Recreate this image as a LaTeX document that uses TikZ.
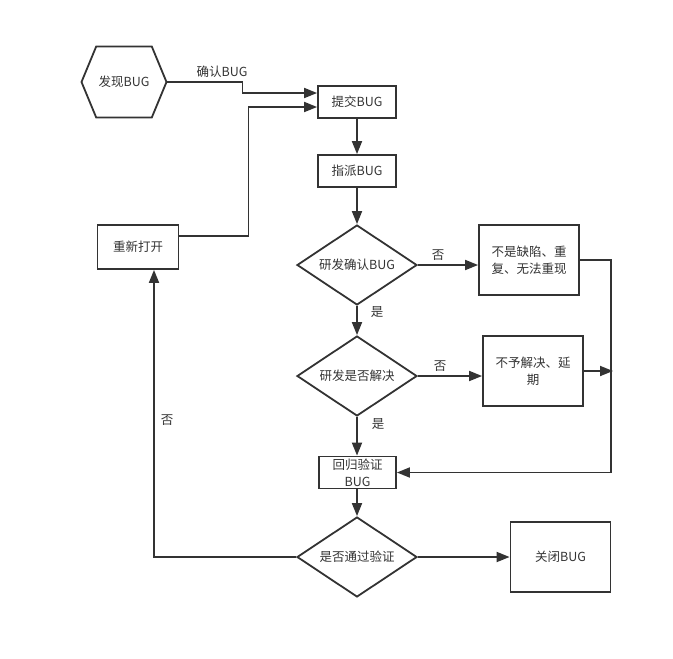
\documentclass[tikz,border=0pt]{standalone}
\usepackage{fontspec}
\setmainfont{Noto Sans CJK SC}
\usetikzlibrary{arrows.meta,shapes.geometric,shapes.symbols}
\definecolor{ink}{HTML}{333333}
\begin{document}
\begin{tikzpicture}[x=1pt, y=-1pt,
  every node/.style={font=\fontsize{12.5}{17}\selectfont, text=ink},
  box/.style={draw=ink, line width=1.8pt, align=center, inner sep=0pt},
  ask/.style={diamond, aspect=1.5, draw=ink, line width=1.8pt, minimum width=120pt,
    minimum height=80pt, inner sep=0pt},
  arr/.style={draw=ink, line width=1.8pt, -{Triangle[length=13pt,width=10pt]}}]
  \useasboundingbox (0,0) rectangle (673,659);
  % steps of the flow
  \node[draw=ink, line width=1.8pt, signal, signal to=west and east,
    signal pointer angle=135, minimum width=85pt, minimum height=71pt,
    inner sep=0pt] (find) at (124,82) {发现BUG};
  \node[box, minimum width=78pt, minimum height=32pt] (submit) at (357,102) {提交BUG};
  \node[box, minimum width=78pt, minimum height=32pt] (assign) at (357,171) {指派BUG};
  \node[ask] (devok) at (357,265) {研发确认BUG};
  \node[box, minimum width=100pt, minimum height=70pt] (notbug) at (529,260)
    {不是缺陷、重\\复、无法重现};
  \node[ask] (devfix) at (357,376) {研发是否解决};
  \node[box, minimum width=100pt, minimum height=70pt] (defer) at (533,371)
    {不予解决、延\\期};
  \node[box, minimum width=77pt, minimum height=32pt] (verify) at (357.5,472.5)
    {回归验证\\BUG};
  \node[ask] (pass) at (357,557) {是否通过验证};
  \node[box, minimum width=100pt, minimum height=70pt] (close) at (560.5,557) {关闭BUG};
  \node[box, minimum width=81pt, minimum height=44pt] (reopen) at (138,247) {重新打开};
  % main line
  \draw[arr] (find.east) -- ++(75,0) |- ([yshift=9pt]submit.west);
  \node (okbug) at (222,72) {确认BUG};
  \draw[arr] (submit) -- (assign);
  \draw[arr] (assign) -- (devok);
  \draw[arr] (devok) -- (devfix);
  \draw[arr] (devfix) -- (devfix.south |- verify.north);
  \draw[arr] (verify.south -| pass) -- (pass);
  \draw[arr] (pass) -- (close);
  \node (yes1) at (377,312) {是};
  \node (yes2) at (378,424) {是};
  % branches to the right
  \draw[arr] (devok.east) -- (devok.east -| notbug.west);
  \node (no1) at (438,255) {否};
  \draw[arr] (devfix.east) -- (devfix.east -| defer.west);
  \node (no2) at (440,366) {否};
  \draw[arr] (notbug.east) -- ++(31,0) |- (verify.east);
  \coordinate (join) at (613,371);
  \draw[arr] (defer.east |- join) -- (join);
  % back loop
  \draw[arr] (pass.west) -| ([xshift=16pt]reopen.south);
  \node (no3) at (167,420) {否};
  \draw[arr] ([yshift=11pt]reopen.east) -- ++(69,0) |- ([yshift=-5pt]submit.west);
\end{tikzpicture}
\end{document}
